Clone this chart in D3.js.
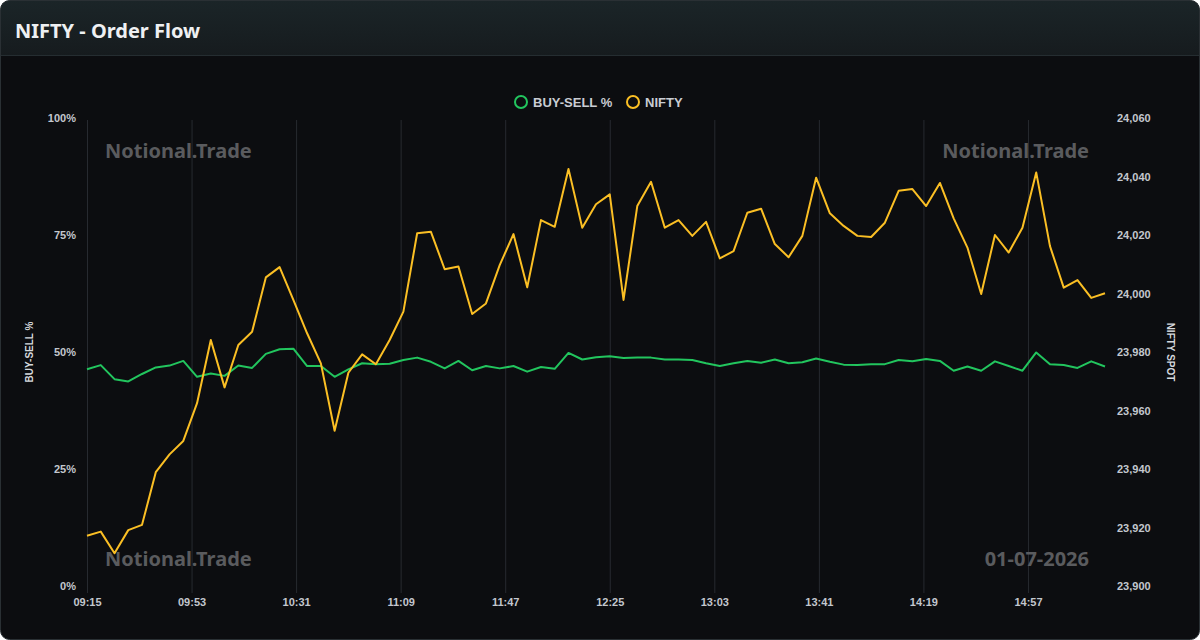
<!DOCTYPE html>
<html>
<head>
<meta charset="utf-8">
<script src="https://cdn.jsdelivr.net/npm/d3@7"></script>
<style>
  html, body { margin: 0; padding: 0; background: #ffffff; }
  #chart { width: 1200px; height: 640px; }
</style>
</head>
<body>
<div id="chart"></div>
<script>
// 5-minute samples from 09:15 to 15:25
const startTime = "09:15";
const stepMinutes = 5;
const buySellPct = [
  46.3, 47.2, 44.2, 43.7, 45.3, 46.7, 47.1, 48.1, 44.7, 45.4,
  44.9, 47.1, 46.6, 49.6, 50.6, 50.7, 47.0, 47.0, 44.7, 46.3,
  47.6, 47.4, 47.5, 48.3, 48.8, 47.9, 46.5, 48.1, 46.1, 47.0,
  46.5, 47.0, 45.8, 46.8, 46.4, 49.8, 48.4, 48.9, 49.1, 48.7,
  48.8, 48.8, 48.4, 48.4, 48.3, 47.6, 47.0, 47.6, 48.1, 47.7,
  48.4, 47.6, 47.8, 48.6, 47.9, 47.3, 47.2, 47.4, 47.4, 48.3,
  48.0, 48.5, 48.1, 46.0, 46.9, 46.0, 48.0, 47.0, 46.0, 49.9,
  47.4, 47.2, 46.6, 48.0, 46.9
];
const niftySpot = [
  23917.2, 23918.6, 23911.2, 23919.1, 23920.9, 23938.9, 23945.0, 23949.6, 23962.5, 23984.1,
  23967.9, 23982.4, 23986.9, 24005.5, 24009.0, 23997.8, 23986.4, 23976.1, 23953.1, 23972.9,
  23979.2, 23975.8, 23984.1, 23993.8, 24020.6, 24021.1, 24008.3, 24009.2, 23993.0, 23996.6,
  24009.7, 24020.3, 24002.1, 24025.1, 24022.8, 24042.6, 24022.5, 24030.5, 24033.9, 23997.8,
  24029.9, 24038.2, 24022.5, 24025.1, 24019.7, 24024.5, 24012.0, 24014.5, 24027.6, 24029.0,
  24016.9, 24012.4, 24019.7, 24039.6, 24027.4, 24023.1, 24019.7, 24019.3, 24024.2, 24035.1,
  24035.7, 24029.9, 24037.8, 24025.7, 24015.7, 23999.8, 24020.0, 24014.0, 24022.5, 24041.4,
  24016.2, 24002.0, 24004.6, 23998.5, 24000.1
];
const xTickLabels = ["09:15", "09:53", "10:31", "11:09", "11:47", "12:25", "13:03", "13:41", "14:19", "14:57"];
const pctTicks = [0, 25, 50, 75, 100];
const spotTicks = [23900, 23920, 23940, 23960, 23980, 24000, 24020, 24040, 24060];
const seriesNames = ["BUY-SELL %", "NIFTY"];
const seriesColors = ["#22c55e", "#fbbf24"];
const watermark = "Notional.Trade";
const dateLabel = "01-07-2026";

const W = 1200, H = 640;
const margin = { left: 87, right: 95, top: 118, bottom: 54 };
const axisFont = "'Liberation Sans', Arial, sans-serif";
const titleFont = "'Noto Sans', 'Open Sans', sans-serif";

const parseTime = d3.timeParse("%H:%M");
const t0 = parseTime(startTime);
const times = buySellPct.map((_, i) => d3.timeMinute.offset(t0, i * stepMinutes));
const rows = times.map((t, i) => ({ t: t, pct: buySellPct[i], spot: niftySpot[i] }));

const svg = d3.select("#chart").append("svg")
  .attr("width", W)
  .attr("height", H)
  .attr("viewBox", [0, 0, W, H]);

const defs = svg.append("defs");
const grad = defs.append("linearGradient").attr("id", "hdr").attr("x1", 0).attr("y1", 0).attr("x2", 0).attr("y2", 1);
grad.append("stop").attr("offset", "0%").attr("stop-color", "#1b2528");
grad.append("stop").attr("offset", "100%").attr("stop-color", "#161b1e");
defs.append("clipPath").attr("id", "card")
  .append("rect").attr("x", 0.5).attr("y", 0.5).attr("width", W - 1).attr("height", H - 1).attr("rx", 9);

// card + header
const card = svg.append("g").attr("clip-path", "url(#card)");
card.append("rect").attr("width", W).attr("height", H).attr("fill", "#0c0d10");
card.append("rect").attr("width", W).attr("height", 56).attr("fill", "url(#hdr)");
card.append("line").attr("x1", 0).attr("x2", W).attr("y1", 55.5).attr("y2", 55.5).attr("stroke", "#252d31");
svg.append("rect").attr("x", 0.5).attr("y", 0.5).attr("width", W - 1).attr("height", H - 1).attr("rx", 9)
  .attr("fill", "none").attr("stroke", "#2a3034");

svg.append("text")
  .attr("x", 15).attr("y", 38)
  .attr("font-family", titleFont).attr("font-weight", 700).attr("font-size", 20)
  .attr("fill", "#eef0f2")
  .text("NIFTY - Order Flow");

const xScale = d3.scaleTime()
  .domain([times[0], times[times.length - 1]])
  .range([margin.left, W - margin.right]);
const yPct = d3.scaleLinear().domain([0, 100]).range([H - margin.bottom, margin.top]);
const ySpot = d3.scaleLinear().domain([23900, 24060]).range([H - margin.bottom, margin.top]);

const plotTop = margin.top + 2, plotBottom = H - margin.bottom;

// vertical grid
const xTicks = xTickLabels.map(s => parseTime(s));
svg.append("g")
  .selectAll("line")
  .data(xTicks)
  .join("line")
  .attr("x1", d => xScale(d) + 0.5).attr("x2", d => xScale(d) + 0.5)
  .attr("y1", plotTop).attr("y2", plotBottom + 7)
  .attr("stroke", "#272a30").attr("stroke-width", 1);

// watermarks
const wm = svg.append("g")
  .attr("font-family", titleFont).attr("font-weight", 700).attr("font-size", 20)
  .attr("fill", "#5a5b5e");
wm.append("text").attr("x", 105).attr("y", 158).text(watermark);
wm.append("text").attr("x", 1089).attr("y", 158).attr("text-anchor", "end").text(watermark);
wm.append("text").attr("x", 105).attr("y", 566).text(watermark);
wm.append("text").attr("x", 1089).attr("y", 566).attr("text-anchor", "end").text(dateLabel);

// x axis labels
const xAxis = d3.axisBottom(xScale).tickValues(xTicks).tickFormat(d3.timeFormat("%H:%M")).tickSize(0).tickPadding(12);
const gx = svg.append("g").attr("transform", `translate(0,${plotBottom})`).call(xAxis);
gx.select(".domain").remove();
gx.selectAll("text").attr("font-family", axisFont).attr("font-weight", 700).attr("font-size", 11).attr("fill", "#c3c7ce");

// left axis
const gl = svg.append("g").attr("transform", `translate(${margin.left - 11},0)`)
  .call(d3.axisLeft(yPct).tickValues(pctTicks).tickFormat(d => d + "%").tickSize(0).tickPadding(0));
gl.select(".domain").remove();
gl.selectAll("text").attr("font-family", axisFont).attr("font-weight", 700).attr("font-size", 11).attr("fill", "#c3c7ce");

// right axis
const gr = svg.append("g").attr("transform", `translate(${W - margin.right + 12},0)`)
  .call(d3.axisRight(ySpot).tickValues(spotTicks).tickFormat(d3.format(",")).tickSize(0).tickPadding(0));
gr.select(".domain").remove();
gr.selectAll("text").attr("font-family", axisFont).attr("font-weight", 700).attr("font-size", 11).attr("fill", "#c3c7ce");

// axis titles
const midY = (margin.top + plotBottom) / 2;
svg.append("text")
  .attr("transform", `translate(33,${midY}) rotate(-90)`)
  .attr("text-anchor", "middle")
  .attr("font-family", axisFont).attr("font-weight", 700).attr("font-size", 10).attr("fill", "#d5d8dd")
  .text("BUY-SELL %");
svg.append("text")
  .attr("transform", `translate(1167,${midY}) rotate(90)`)
  .attr("text-anchor", "middle")
  .attr("font-family", axisFont).attr("font-weight", 700).attr("font-size", 10).attr("fill", "#d5d8dd")
  .text("NIFTY SPOT");

// lines
const pctLine = d3.line().x(d => xScale(d.t)).y(d => yPct(d.pct));
const spotLine = d3.line().x(d => xScale(d.t)).y(d => ySpot(d.spot));
svg.append("path").datum(rows).attr("d", pctLine)
  .attr("fill", "none").attr("stroke", seriesColors[0]).attr("stroke-width", 2).attr("stroke-linejoin", "round");
svg.append("path").datum(rows).attr("d", spotLine)
  .attr("fill", "none").attr("stroke", seriesColors[1]).attr("stroke-width", 2).attr("stroke-linejoin", "round");

// legend
const legendX = [521, 633];
const legend = svg.append("g").selectAll("g")
  .data(seriesNames)
  .join("g")
  .attr("transform", (d, i) => `translate(${legendX[i]},102)`);
legend.append("circle")
  .attr("r", 6).attr("fill", "none")
  .attr("stroke", (d, i) => seriesColors[i]).attr("stroke-width", 2);
legend.append("text")
  .attr("x", 12).attr("y", 4.5)
  .attr("font-family", axisFont).attr("font-weight", 700).attr("font-size", 13).attr("fill", "#c9ccd3")
  .text(d => d);
</script>
</body>
</html>
